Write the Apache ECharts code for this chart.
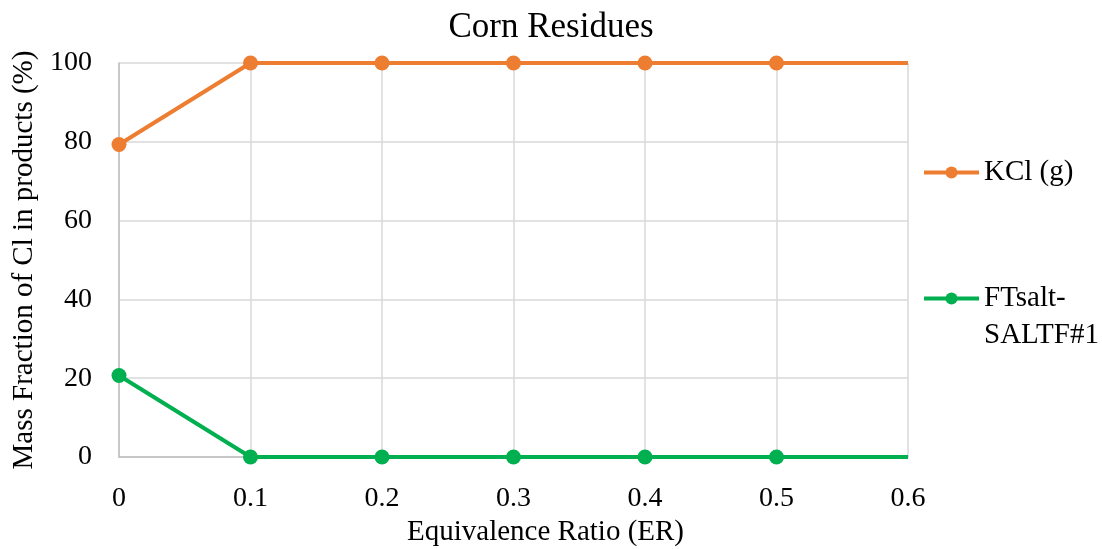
<!doctype html>
<html lang="en">
<head>
<meta charset="UTF-8">
<title>Corn Residues</title>
<script src="https://cdn.jsdelivr.net/npm/echarts@6/dist/echarts.min.js"></script>
<style>
  html, body { margin: 0; padding: 0; background: #fff; }
  #main { width: 1102px; height: 549px; }
</style>
</head>
<body>
<div id="main"></div>
<script type="text/javascript">
    // equivalence ratio values (x)
    var erValues = [0, 0.1, 0.2, 0.3, 0.4, 0.5, 0.6];
    // mass fraction of Cl (%), last point drawn without marker
    var kclValues = [79.3, 100, 100, 100, 100, 100, 100];
    var ftsaltValues = [20.7, 0, 0, 0, 0, 0, 0];
    var seriesNames = ['KCl (g)', 'FTsalt-SALTF#1'];

    var font = '"Liberation Serif", "Times New Roman", serif';

    function toPoints(vals) {
        return erValues.map(function (x, i) {
            var p = { value: [x, vals[i]] };
            if (i === erValues.length - 1) {
                p.symbol = 'none';
            }
            return p;
        });
    }

    var chart = echarts.init(document.getElementById('main'));

    var legendText = { fontFamily: font, fontSize: 29, color: '#000', lineHeight: 37 };

    var option = {
        animation: false,
        backgroundColor: '#fff',
        textStyle: { fontFamily: font },
        title: {
            text: 'Corn Residues',
            left: 'center',
            top: 5,
            textStyle: { fontFamily: font, fontSize: 35, fontWeight: 'normal', color: '#000' }
        },
        legend: [
            {
                data: [seriesNames[0]],
                left: 922,
                top: 154,
                padding: 0,
                itemWidth: 55,
                itemHeight: 15,
                lineStyle: { width: 4 },
                textStyle: legendText
            },
            {
                data: [seriesNames[1]],
                left: 922,
                top: 243,
                padding: 0,
                itemWidth: 55,
                itemHeight: 15,
                lineStyle: { width: 4 },
                // blank first line keeps the icon level with "FTsalt-"
                formatter: function () { return ' \nFTsalt-\nSALTF#1'; },
                textStyle: legendText
            }
        ],
        grid: { left: 119, right: 194, top: 63, bottom: 92, outerBoundsMode: 'none' },
        xAxis: {
            type: 'value',
            min: 0,
            max: 0.6,
            interval: 0.1,
            name: 'Equivalence Ratio (ER)',
            nameLocation: 'middle',
            nameGap: 60,
            nameTextStyle: { fontFamily: font, fontSize: 29, color: '#000', padding: [0, 0, 0, 64] },
            axisLine: { show: true, lineStyle: { color: '#bfbfbf', width: 1.5 } },
            axisTick: { show: false },
            axisLabel: { margin: 28, fontFamily: font, fontSize: 28, color: '#000' },
            splitLine: { show: true, lineStyle: { color: '#d9d9d9', width: 1.5 } }
        },
        yAxis: {
            type: 'value',
            min: 0,
            max: 100,
            interval: 20,
            name: 'Mass Fraction of Cl in products (%)',
            nameLocation: 'middle',
            nameGap: 77,
            nameTextStyle: { fontFamily: font, fontSize: 29, color: '#000' },
            axisLine: { show: true, lineStyle: { color: '#bfbfbf', width: 1.5 } },
            axisTick: { show: false },
            axisLabel: { margin: 27, fontFamily: font, fontSize: 28, color: '#000' },
            splitLine: { show: true, lineStyle: { color: '#d9d9d9', width: 1.5 } }
        },
        series: [
            {
                name: seriesNames[0],
                type: 'line',
                data: toPoints(kclValues),
                symbol: 'circle',
                symbolSize: 15,
                color: '#ED7D31',
                lineStyle: { width: 4, color: '#ED7D31' },
                itemStyle: { color: '#ED7D31' }
            },
            {
                name: seriesNames[1],
                type: 'line',
                data: toPoints(ftsaltValues),
                symbol: 'circle',
                symbolSize: 15,
                color: '#00B050',
                lineStyle: { width: 4, color: '#00B050' },
                itemStyle: { color: '#00B050' }
            }
        ]
    };

    chart.setOption(option);
</script>
</body>
</html>
